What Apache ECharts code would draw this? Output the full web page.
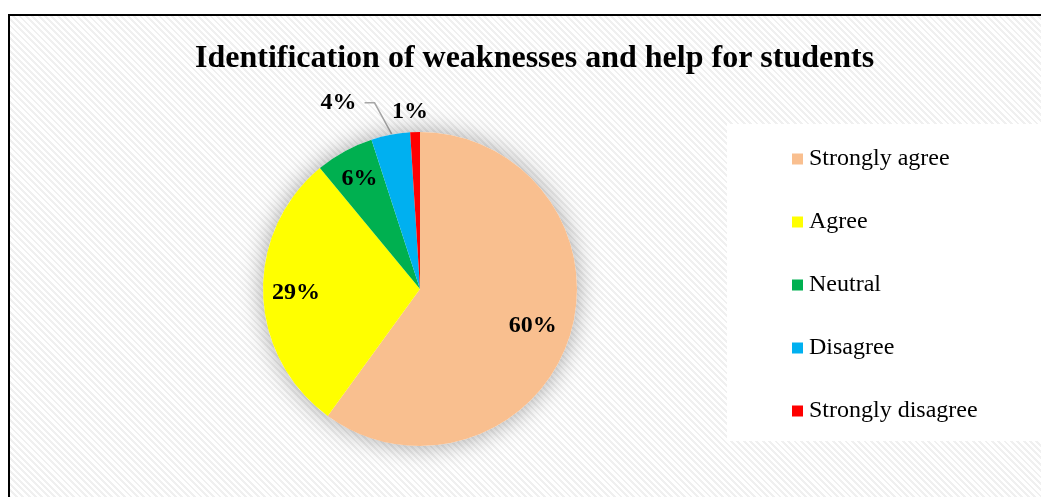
<!DOCTYPE html>
<html>
<head>
<meta charset="utf-8">
<script src="https://cdn.jsdelivr.net/npm/echarts@6/dist/echarts.min.js"></script>
<style>
    html, body { margin: 0; padding: 0; background: #fff; }
    #frame {
        position: absolute; left: 8px; top: 14px; width: 1100px; height: 600px;
        border-top: 2px solid #000; border-left: 2px solid #000;
        background: repeating-linear-gradient(45deg, #ffffff 0px, #ffffff 2.5px, #f0f0f0 2.5px, #f0f0f0 4.5px);
    }
    #chart { position: absolute; left: 0; top: 0; width: 1041px; height: 497px; }
</style>
</head>
<body>
<div id="frame"></div>
<div id="chart"></div>
<script>
// data
const categories = ['Strongly agree', 'Agree', 'Neutral', 'Disagree', 'Strongly disagree'];
const values = [60, 29, 6, 4, 1];
const colors = ['#F9BF8F', '#FFFF00', '#00B050', '#00B0F0', '#FF0000'];

const cx = 420, cy = 289, R = 157;
// label distance from centre, as fraction of radius (null = outside label)
const labelRadius = [0.755, 0.79, 0.8, null, null];

const total = values.reduce((a, b) => a + b, 0);
let acc = 0;
const midAngles = values.map(v => {
    const a = (90 - (acc + v / 2) / total * 360) * Math.PI / 180;
    acc += v;
    return a;
});

let chartDom = document.getElementById('chart');
let chart = echarts.init(chartDom);
var option;

option = {
    backgroundColor: 'transparent',
    title: {
        text: 'Identification of weaknesses and help for students',
        left: 190,
        top: 38,
        textStyle: {
            fontFamily: 'Liberation Serif',
            fontWeight: 'bold',
            fontSize: 32,
            color: '#000'
        }
    },
    legend: {
        data: categories,
        orient: 'vertical',
        left: 727,
        top: 124,
        backgroundColor: '#fff',
        padding: [23, 120, 18, 65],
        itemGap: 39,
        itemWidth: 11,
        itemHeight: 11,
        icon: 'rect',
        textStyle: {
            fontFamily: 'Liberation Serif',
            fontSize: 24,
            color: '#000',
            padding: [0, 0, 0, 1]
        }
    },
    series: [
        {
            // soft shadow behind the whole pie
            type: 'pie',
            silent: true,
            center: [cx, cy],
            radius: R,
            label: { show: false },
            labelLine: { show: false },
            itemStyle: {
                color: '#fff',
                shadowBlur: 24,
                shadowColor: 'rgba(0,0,0,0.35)'
            },
            data: [{ value: 1, name: '' }]
        },
        {
            type: 'pie',
            center: [cx, cy],
            radius: R,
            startAngle: 90,
            clockwise: true,
            animation: false,
            itemStyle: { borderWidth: 0 },
            label: {
                position: 'inside',
                formatter: '{c}%',
                fontFamily: 'Liberation Serif',
                fontWeight: 'bold',
                fontSize: 24,
                color: '#000'
            },
            labelLine: {
                show: false,
                lineStyle: { color: '#a6a6a6', width: 1.5 }
            },
            labelLayout: function (params) {
                const i = params.dataIndex;
                const a = midAngles[i];
                const ex = cx + R * Math.cos(a), ey = cy - R * Math.sin(a);
                if (labelRadius[i] != null) {
                    return {
                        x: cx + R * labelRadius[i] * Math.cos(a),
                        y: cy - R * labelRadius[i] * Math.sin(a),
                        align: 'center',
                        verticalAlign: 'middle'
                    };
                }
                if (i === 3) {
                    return {
                        x: ex - 34,
                        y: ey - 32,
                        align: 'right',
                        verticalAlign: 'middle',
                        labelLinePoints: [[ex + 1, ey - 1], [ex - 16, ey - 32], [ex - 26, ey - 32]]
                    };
                }
                return {
                    x: ex - 5,
                    y: ey - 20,
                    align: 'center',
                    verticalAlign: 'middle'
                };
            },
            data: categories.map((name, i) => ({
                name: name,
                value: values[i],
                itemStyle: { color: colors[i] },
                label: labelRadius[i] == null ? { position: 'outside' } : {},
                labelLine: i === 3 ? { show: true } : {}
            }))
        }
    ]
};
chart.setOption(option);
</script>
</body>
</html>
